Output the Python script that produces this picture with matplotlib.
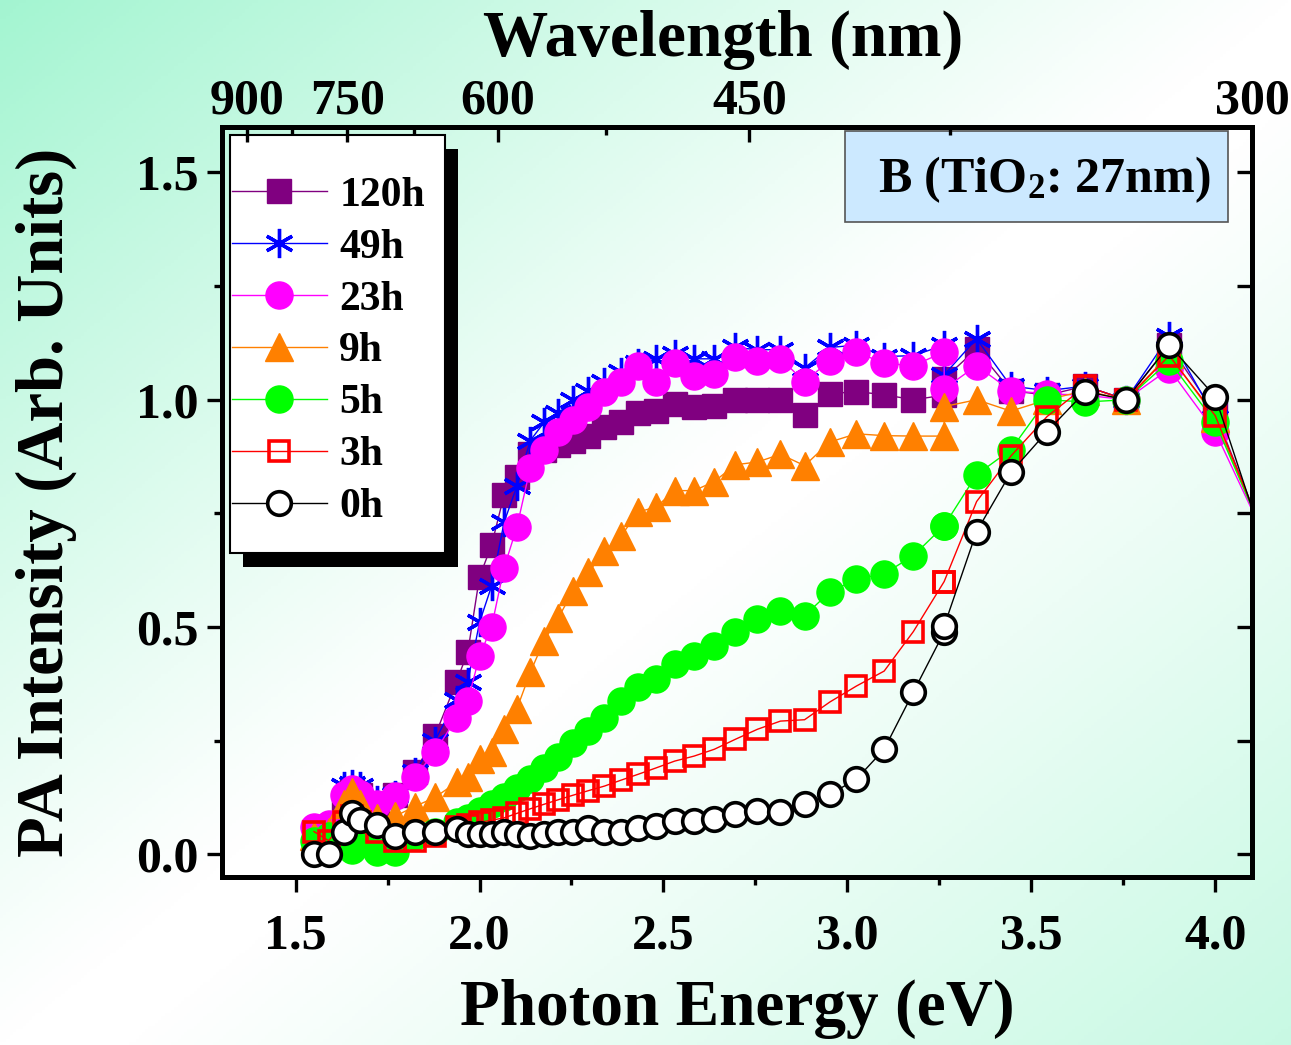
import numpy as np
import matplotlib
matplotlib.use('Agg')
import matplotlib.pyplot as plt
from matplotlib.patches import Rectangle
from matplotlib.ticker import MultipleLocator

plt.rcParams['font.family'] = ['Liberation Serif', 'DejaVu Serif']
plt.rcParams['font.weight'] = 'bold'
plt.rcParams['axes.labelweight'] = 'bold'
plt.rcParams['mathtext.fontset'] = 'custom'
plt.rcParams['mathtext.rm'] = 'Liberation Serif:bold'
plt.rcParams['mathtext.default'] = 'rm'

# measurement wavelengths (nm); 380 nm appears twice (two scans overlap)
wavelength = [800, 780, 760, 750, 740, 720, 700, 680, 660,
              640, 630, 620, 610, 600, 590, 580, 570, 560, 550,
              540, 530, 520, 510, 500, 490, 480, 470, 460, 450,
              440, 430, 420, 410, 400, 390, 380, 380,
              370, 360, 350, 340, 330, 320, 310, 300]

pa_120h = [0.05, 0.06, 0.10, 0.14, 0.13, 0.11, 0.13, 0.18, 0.26,
           0.38, 0.445, 0.61, 0.68, 0.79, 0.83, 0.88, 0.89, 0.90, 0.91,
           0.92, 0.94, 0.95, 0.97, 0.975, 0.99, 0.985, 0.987, 1.0, 1.0,
           1.0, 0.966, 1.013, 1.018, 1.011, 1.0, 1.01, 1.046,
           1.112, 1.02, 1.01, 1.03, 1.0, 1.12, 0.97, 0.70]
pa_49h = [0.05, 0.06, 0.15, 0.155, 0.15, 0.12, 0.13, 0.18, 0.25,
          0.34, 0.38, 0.51, 0.59, 0.73, 0.81, 0.91, 0.95, 0.97, 1.0,
          1.02, 1.04, 1.06, 1.08, 1.09, 1.10, 1.09, 1.09, 1.115, 1.11,
          1.11, 1.07, 1.115, 1.12, 1.095, 1.097, 1.12, 1.055,
          1.134, 1.03, 1.02, 1.03, 1.0, 1.14, 0.96, 0.70]
pa_23h = [0.06, 0.066, 0.13, 0.143, 0.132, 0.11, 0.128, 0.17, 0.225,
          0.30, 0.337, 0.436, 0.50, 0.63, 0.72, 0.85, 0.89, 0.93, 0.955,
          0.985, 1.017, 1.04, 1.075, 1.04, 1.08, 1.053, 1.057, 1.095, 1.086,
          1.09, 1.04, 1.086, 1.105, 1.08, 1.075, 1.105, 1.024,
          1.075, 1.02, 1.013, 1.01, 1.0, 1.068, 0.93, 0.70]
pa_9h = [0.04, 0.05, 0.11, 0.137, 0.11, 0.08, 0.084, 0.105, 0.125,
         0.158, 0.17, 0.21, 0.225, 0.275, 0.32, 0.40, 0.47, 0.52, 0.58,
         0.62, 0.667, 0.70, 0.753, 0.764, 0.80, 0.80, 0.82, 0.857, 0.863,
         0.88, 0.855, 0.907, 0.925, 0.921, 0.92, 0.92, 0.985,
         1.0, 0.975, 1.0, 1.02, 1.0, 1.10, 0.96, 0.70]
pa_5h = [0.03, 0.04, 0.03, 0.01, 0.04, 0.005, 0.005, 0.04, 0.05,
         0.07, 0.08, 0.095, 0.11, 0.125, 0.145, 0.165, 0.19, 0.215, 0.245,
         0.272, 0.30, 0.337, 0.367, 0.385, 0.418, 0.436, 0.458, 0.49, 0.518,
         0.535, 0.525, 0.577, 0.605, 0.617, 0.657, 0.723, 0.723,
         0.835, 0.89, 1.0, 0.995, 1.0, 1.085, 0.95, 0.70]
pa_3h = [0.05, 0.03, 0.07, 0.085, 0.07, 0.05, 0.03, 0.03, 0.04,
         0.06, 0.065, 0.07, 0.075, 0.08, 0.09, 0.10, 0.11, 0.12, 0.13,
         0.14, 0.15, 0.163, 0.176, 0.19, 0.205, 0.216, 0.231, 0.253, 0.275,
         0.293, 0.296, 0.335, 0.37, 0.403, 0.49, 0.60, 0.60,
         0.776, 0.876, 0.963, 1.03, 1.0, 1.097, 0.965, 0.70]
pa_0h = [0.0, 0.0, 0.05, 0.09, 0.075, 0.065, 0.04, 0.048, 0.048,
         0.055, 0.045, 0.045, 0.045, 0.05, 0.045, 0.04, 0.045, 0.05, 0.05,
         0.058, 0.05, 0.05, 0.058, 0.062, 0.073, 0.073, 0.077, 0.088, 0.095,
         0.093, 0.11, 0.132, 0.165, 0.231, 0.357, 0.489, 0.502,
         0.71, 0.84, 0.93, 1.018, 1.0, 1.12, 1.007, 0.68]

labels = ['120h', '49h', '23h', '9h', '5h', '3h', '0h']

top_major_nm = [900, 750, 600, 450, 300]
top_minor_nm = [825, 675, 525, 375]

energy = [1240.0 / w for w in wavelength]

fig = plt.figure(figsize=(12.91, 10.45), dpi=100)

# background gradient
bg = fig.add_axes([0, 0, 1, 1], zorder=-10)
u, v = np.meshgrid(np.linspace(0, 1, 400), np.linspace(0, 1, 330))
d = (u + v) / 2
g = np.clip(1 - d / 0.5, 0, 1) ** 1.1 + 0.6 * np.clip((d - 0.55) / 0.45, 0, 1)
g = np.clip(g, 0, 1)
mint = np.array([0.64, 0.96, 0.82])
img = 1 - g[..., None] * (1 - mint)
bg.imshow(img, aspect='auto', extent=[0, 1, 0, 1], origin='upper')
bg.axis('off')

ax = fig.add_axes([222 / 1291, 1 - 877 / 1045, 1030 / 1291, 750 / 1045])
ax.patch.set_alpha(0)

styles = [
    dict(color='#800080', marker='s', ms=17, mfc='#800080', mec='#800080'),
    dict(color='#0000FF', marker=(6, 2, 0), ms=21, mew=2.4, mec='#0000FF'),
    dict(color='#FF00FF', marker='o', ms=19.5, mfc='#FF00FF', mec='#FF00FF'),
    dict(color='#FF8000', marker='^', ms=20, mfc='#FF8000', mec='#FF8000'),
    dict(color='#00FF00', marker='o', ms=19.5, mfc='#00FF00', mec='#00FF00'),
    dict(color='#FF0000', marker='s', ms=15, mfc='none', mec='#FF0000', mew=2.6),
    dict(color='black', marker='o', ms=17, mfc='white', mec='black', mew=2.6),
]
data = [pa_120h, pa_49h, pa_23h, pa_9h, pa_5h, pa_3h, pa_0h]
for vals, lab, st in zip(data, labels, styles):
    ax.plot(energy, vals, lw=1, label=lab, **st)

ax.set_xlim(1.3, 4.1)
ax.set_ylim(-0.05, 1.6)
ax.xaxis.set_major_locator(MultipleLocator(0.5))
ax.xaxis.set_minor_locator(MultipleLocator(0.25))
ax.yaxis.set_major_locator(MultipleLocator(0.5))
ax.yaxis.set_minor_locator(MultipleLocator(0.25))
ax.tick_params(which='both', direction='out', width=2.4, top=False, right=False)
ax.tick_params(which='major', length=11, labelsize=36, pad=6)
ax.tick_params(which='minor', length=6)
ax.tick_params(axis='x', which='major', pad=15)
ax.yaxis.set_major_formatter(matplotlib.ticker.FormatStrFormatter('%.1f'))
ax.xaxis.set_major_formatter(matplotlib.ticker.FormatStrFormatter('%.1f'))
for s in ax.spines.values():
    s.set_linewidth(3.6)

# right side inward ticks
axr = ax.twinx()
axr.set_ylim(ax.get_ylim())
axr.yaxis.set_major_locator(MultipleLocator(0.25))
axr.tick_params(direction='in', length=11, width=2.4, labelright=False)
for s in axr.spines.values():
    s.set_visible(False)

# top wavelength axis
axt = ax.twiny()
axt.set_xlim(ax.get_xlim())
axt.set_xticks([1230.0 / w for w in top_major_nm])
axt.set_xticklabels([str(w) for w in top_major_nm])
axt.set_xticks([1230.0 / w for w in top_minor_nm], minor=True)
axt.tick_params(which='both', direction='in', width=2.4, labelsize=36, pad=2)
axt.tick_params(which='major', length=11)
axt.tick_params(which='minor', length=6)
for s in axt.spines.values():
    s.set_visible(False)
axt.set_xlabel('Wavelength (nm)', fontsize=47, labelpad=16)
axt.xaxis.label.set_x(0.487)

ax.set_xlabel('Photon Energy (eV)', fontsize=47, labelpad=14)
ax.set_ylabel('PA Intensity (Arb. Units)', fontsize=48, labelpad=42)

# legend with hard shadow
ax.add_patch(Rectangle((0.0204, 0.4133), 0.2087, 0.557, transform=ax.transAxes,
                       facecolor='black', edgecolor='none', zorder=8))
ax.add_patch(Rectangle((0.0078, 0.432), 0.2087, 0.557, transform=ax.transAxes,
                       facecolor='white', edgecolor='black', lw=1.5, zorder=8.5))
leg = ax.legend(loc='upper left', bbox_to_anchor=(0.0095, 0.934), frameon=False,
                fontsize=30, handlelength=2.28, handletextpad=0.3,
                labelspacing=0.33, borderpad=0, borderaxespad=0)
leg.set_zorder(9)

# sample label box
ax.add_patch(Rectangle((0.605, 0.8733), 0.372, 0.1214, transform=ax.transAxes,
                       facecolor='#CCE9FF', edgecolor='#555555', lw=1.2, zorder=8))
ax.text(0.798, 0.93, 'B (TiO$_2$: 27nm)', transform=ax.transAxes, fontsize=36,
        ha='center', va='center', zorder=9)

fig.savefig('out.png', dpi=100)
